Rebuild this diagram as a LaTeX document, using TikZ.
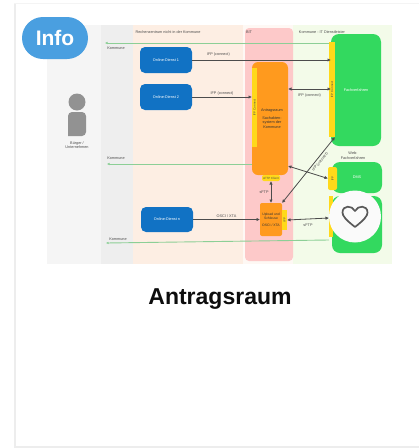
\documentclass[tikz,border=0pt]{standalone}
\usepackage{fontspec}
\setmainfont{Liberation Sans}
\usetikzlibrary{arrows.meta, shapes.misc}

\definecolor{cardshadow}{HTML}{EDEDED}
\definecolor{infoblue}{HTML}{4A9FE0}
\definecolor{dienstblue}{HTML}{1172C4}
\definecolor{antragorange}{HTML}{FF9A1E}
\definecolor{stripyellow}{HTML}{FFD91A}
\definecolor{kerngreen}{HTML}{33D95F}
\definecolor{linegreen}{HTML}{8CCF96}
\definecolor{zonegray}{HTML}{F5F5F5}
\definecolor{zonemid}{HTML}{EEEEEE}
\definecolor{zonepeach}{HTML}{FDEEE3}
\definecolor{zonepink}{HTML}{FDC9C9}
\definecolor{zonegreen}{HTML}{F3FBE9}
\definecolor{persongray}{HTML}{929292}

\tikzset{
	zone/.style={anchor=north west, inner sep=0pt, outer sep=0pt, minimum height=239pt},
	boxround/.style={anchor=north west, inner sep=0pt, outer sep=0pt, rounded corners=5pt},
	tinyfont/.style={font=\fontsize{3.8}{4.4}\selectfont},
	dienst/.style={boxround, tinyfont, fill=dienstblue, minimum width=52pt, minimum height=26pt, text=white},
	fachgreen/.style={boxround, tinyfont, rounded corners=8pt, fill=kerngreen, minimum width=50pt, text=white},
	strip/.style={anchor=north west, inner sep=0pt, outer sep=0pt, fill=stripyellow, font=\fontsize{3}{3.5}\selectfont, text=black!70},
	stripcon/.style={rotate=90, font=\fontsize{3}{3.5}\selectfont, text=black!70, inner sep=0pt},
	tiny/.style={inner sep=0pt, tinyfont, text=black!70, align=center},
	conn/.style={draw=black!70, line width=0.8pt, -{Latex[length=3.5pt,width=3.5pt]}},
	twoway/.style={conn, {Latex[length=3.5pt,width=3.5pt]}-{Latex[length=3.5pt,width=3.5pt]}},
	back/.style={draw=linegreen, line width=0.9pt, -{Latex[length=2.5pt,width=2.5pt]}}
}

\begin{document}
\begin{tikzpicture}[x=1pt, y=-1pt]
	\useasboundingbox (0,0) rectangle (419,448);
	% card
	\fill [cardshadow!60] (14,3) rectangle (419,448);
	\fill [cardshadow] (14,4) rectangle (16,448);
	\fill [cardshadow] (14,446) rectangle (419,448);
	\fill [white] (16,3.6) rectangle (419,446);

	% background zones
	\node [zone, fill=zonegray, minimum width=54pt] (buerger) at (47,25) {};
	\node [zone, fill=zonemid, minimum width=32pt] (gray) at (101,25) {};
	\node [zone, fill=zonepeach, minimum width=110pt] (rechen) at (133,25) {};
	\node [zone, fill=zonegreen, minimum width=99pt] (kommune) at (293,25) {};
	\fill [zonepeach!40] (243,25) rectangle (293,264);
	\node [boxround, rounded corners=4pt, fill=zonepink, minimum width=48pt, minimum height=233pt] (bit) at (245,28) {};

	\node [tiny] (t1) at (168,32) {Rechenzentrum nicht in der Kommune};
	\node [tiny] (t2) at (249,32) {BIT};
	\node [tiny] (t3) at (322,32) {Kommune - IT Dienstleister};

	% person
	\fill [persongray] (77,102) circle (8.5);
	\fill [persongray, rounded corners=4pt] (68,136) -- (68,112) -- (86,112) -- (86,136) [sharp corners] -- cycle;
	\node [tiny] (person) at (77,145) {Bürger /\\Unternehmen};

	% online services
	\node [dienst] (dienst1) at (140,47) {Online-Dienst 1};
	\node [dienst] (dienst2) at (140,84) {Online-Dienst 2};
	\node [dienst, minimum height=25pt] (dienstn) at (141,207) {Online-Dienst n};

	% orange boxes
	\node [boxround, rounded corners=6pt, fill=antragorange, minimum width=36pt, minimum height=113pt, align=center, text=black!80, font=\fontsize{3.8}{4.5}\selectfont] (antrag) at (252,62) {\hspace*{4pt}Antragsraum\\[3pt]\hspace*{4pt}Sachakten-\\\hspace*{4pt}system der\\\hspace*{4pt}Kommune};
	\node [strip, minimum width=5pt, minimum height=79pt] (antragstrip) at (252,68) {};
	\node [stripcon] (antragcon) at (antragstrip.center) {IFP Connect};
	\node [strip, rounded corners=2pt, minimum width=18pt, minimum height=6pt] (antragtab) at (262,175) {sFTP Client};
	\node [boxround, rounded corners=2pt, fill=antragorange, minimum width=22pt, minimum height=33pt, align=center, text=black!80, font=\fontsize{3.4}{4}\selectfont] (gateway) at (260,203) {Upload und\\Schleuse\\[3pt]OSCI / XTA};
	\node [strip, minimum width=5pt, minimum height=20pt] (gatewaystrip) at (282,210) {};
	\node [stripcon] (gatewaycon) at (gatewaystrip.center) {IFP};

	% green boxes
	\node [fachgreen, minimum height=112pt] (fach) at (331,34) {Fachverfahren};
	\node [strip, minimum width=6pt, minimum height=95pt] (fachstrip) at (329,42) {};
	\node [stripcon] (fachcon) at (fachstrip.center) {IFP Connect};
	\node [fachgreen, minimum height=31pt] (dms) at (332,162) {DMS};
	\node [strip, rounded corners=2pt, minimum width=9pt, minimum height=23pt] (dmsstrip) at (328,167) {};
	\node [stripcon] (dmscon) at (dmsstrip.center) {IFP};
	\node [tiny] (dmslabel) at (353,155.5) {Web-\\Fachverfahren};
	\node [fachgreen, minimum height=57pt] (weitere) at (332,196) {};
	\node [strip, minimum width=4pt, minimum height=41pt] (weiterestrip) at (329,196) {};

	% feedback lines
	\coordinate (k1) at (105,43);
	\coordinate (k2) at (107,164);
	\coordinate (k3) at (106,243);
	\draw [back] (fachstrip.west |- 0,43) -- (k1);
	\draw [back] (antrag.west |- k2) -- (k2);
	\draw [back] (weiterestrip.west |- 0,240) -- (k3);
	\node [tiny] (k1label) at (116,48) {Kommune};
	\node [tiny] (k2label) at (116,158) {Kommune};
	\node [tiny] (k3label) at (118,239) {Kommune};

	% connections
	\draw [conn] (dienst1.east) -- (fach.west |- dienst1.east) node [tiny, pos=0.19, above=3pt] (e1) {IFP (connect)};
	\draw [conn] (dienst2.east) -- (antrag.west |- dienst2.east) node [tiny, midway, above=1pt] (e2) {IFP (connect)};
	\draw [twoway] (antrag.east |- 0,89) -- (fach.west |- 0,89) node [tiny, midway, below=4pt] (e3) {IFP (connect)};
	\draw [conn] (dienstn.east) -- (gateway.west |- dienstn.east) node [tiny, midway, above=2pt] (e4) {OSCI / XTA};
	\draw [twoway] (gatewaystrip.east) -- (fachstrip.west |- 0,218) node [tiny, midway, below=4pt] (e5) {sFTP};
	\draw [twoway] (antrag.east |- 0,166) -- (dmsstrip.west);
	\draw [twoway] (antragtab.south) -- (gateway.north) node [tiny, midway, left=2pt] (e6) {sFTP};
	\draw [twoway] (gateway.north east) -- (fachstrip.south east) node [tiny, pos=0.66, sloped, below=2pt] (e7) {IFP (connect)};

	% favourite button
	\node [circle, fill=black!2, minimum size=52pt, inner sep=0pt] (fav) at (355,216.5) {};
	\draw [black!65, line width=1.7pt, line join=round] (355,227) .. controls (346,220) and (342.5,216) .. (342.5,212.5) .. controls (342.5,205) and (352,205) .. (355,211) .. controls (358,205) and (367.5,205) .. (367.5,212.5) .. controls (367.5,216) and (364,220) .. (355,227) -- cycle;

	% info badge
	\node [rounded rectangle, fill=infoblue, text=white, minimum width=66pt, minimum height=42pt, inner sep=0pt, font=\bfseries\fontsize{21}{24}\selectfont] (info) at (55,38) {Info};

	% title
	\node [font=\bfseries\fontsize{23}{26}\selectfont, text=black!95, inner sep=0pt] (title) at (220,299) {Antragsraum};
\end{tikzpicture}
\end{document}
